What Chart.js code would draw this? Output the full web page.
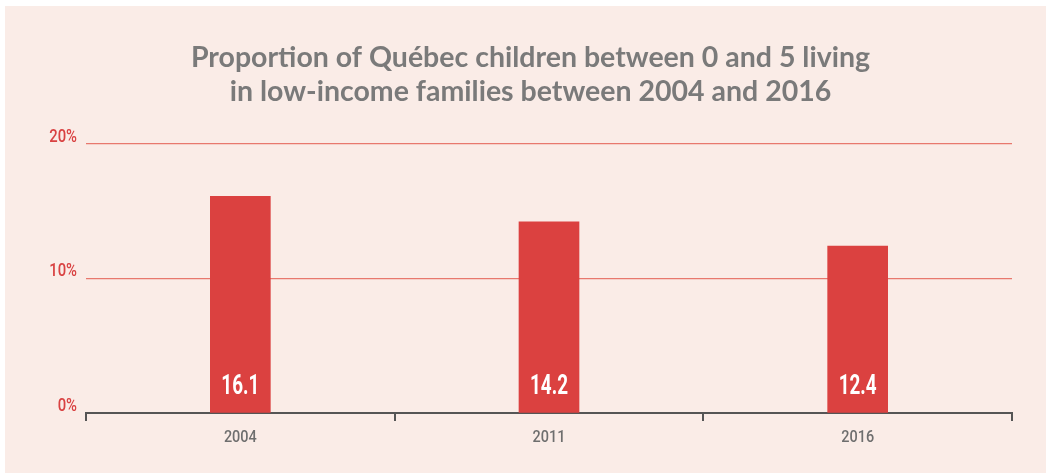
<!DOCTYPE html>
<html>
<head>
<meta charset="utf-8">
<script src="https://cdn.jsdelivr.net/npm/chart.js@4"></script>
<style>
  html, body { margin: 0; padding: 0; background: #ffffff; }
  #panel { position: absolute; left: 5px; top: 6px; width: 1041px; height: 467px; background: #faece7; }
</style>
</head>
<body>
<div id="panel"><canvas id="myChart" width="1041" height="467"></canvas></div>
<script>
'use strict';

//Chart data
let years = ['2004', '2011', '2016'];
let proportions = [16.1, 14.2, 12.4];
let yTicks = [0, 10, 20];
let titleLines = ['Proportion of Québec children between 0 and 5 living', 'in low-income families between 2004 and 2016'];

// draws text squeezed horizontally, to get a condensed look
function narrowText(ctx, text, x, y, squeeze, align) {
  ctx.save();
  ctx.translate(x, y);
  ctx.scale(squeeze, 1);
  ctx.textAlign = align;
  ctx.textBaseline = 'middle';
  ctx.fillText(text, 0, 0);
  ctx.restore();
}

// writes the value inside each bar and the axis labels
let narrowLabels = {
  id: 'narrowLabels',
  afterDatasetsDraw(chart) {
    let ctx = chart.ctx;
    let meta = chart.getDatasetMeta(0);
    let xScale = chart.scales.x;
    let yScale = chart.scales.y;
    let yZero = yScale.getPixelForValue(0);

    ctx.fillStyle = '#ffffff';
    ctx.font = 'bold 27px Roboto';
    meta.data.forEach(function(bar, i) {
      narrowText(ctx, proportions[i].toFixed(1), bar.x, yZero - 26, 0.7, 'center');
    });

    ctx.fillStyle = '#d94242';
    ctx.font = '500 19px Roboto';
    yScale.ticks.forEach(function(tick) {
      narrowText(ctx, tick.value + '%', yScale.right - 9, yScale.getPixelForValue(tick.value) - 7, 0.78, 'right');
    });

    ctx.fillStyle = '#6e6e6e';
    ctx.font = '500 17px Roboto';
    xScale.ticks.forEach(function(tick, i) {
      narrowText(ctx, years[i], xScale.getPixelForTick(i), yZero + 25, 0.85, 'center');
    });
  }
};

let ctx = document.getElementById('myChart').getContext('2d');
let myChart = new Chart(ctx, { // eslint-disable-line
  type: 'bar',
  data: {
    labels: years,
    datasets: [{
      data: proportions,
      backgroundColor: '#db4140',
      barThickness: 60
    }]
  },
  options: {
    responsive: false,
    animation: false,
    layout: { padding: { left: 44, right: 34, top: 0, bottom: 0 } },
    plugins: {
      legend: { display: false },
      tooltip: { enabled: false },
      title: {
        display: true,
        text: titleLines,
        color: '#7a7a7a',
        font: { family: 'Lato, sans-serif', size: 28.5, weight: 'bold', lineHeight: 1.19 },
        padding: { top: 35, bottom: 35 }
      }
    },
    scales: {
      x: {
        afterFit(scale) { scale.height = 60; },
        border: { display: true, color: '#555555', width: 2 },
        grid: { offset: true, drawOnChartArea: false, drawTicks: true, tickLength: 8, color: '#555555', lineWidth: 2 },
        ticks: { display: false }
      },
      y: {
        min: 0,
        max: 20,
        afterFit(scale) { scale.width = 37; },
        afterBuildTicks(scale) { scale.ticks = yTicks.map(v => ({ value: v })); },
        border: { display: false },
        grid: { drawTicks: false, color: '#e8786e', lineWidth: 1.2 },
        ticks: { display: false }
      }
    }
  },
  plugins: [narrowLabels]
});
</script>
</body>
</html>
